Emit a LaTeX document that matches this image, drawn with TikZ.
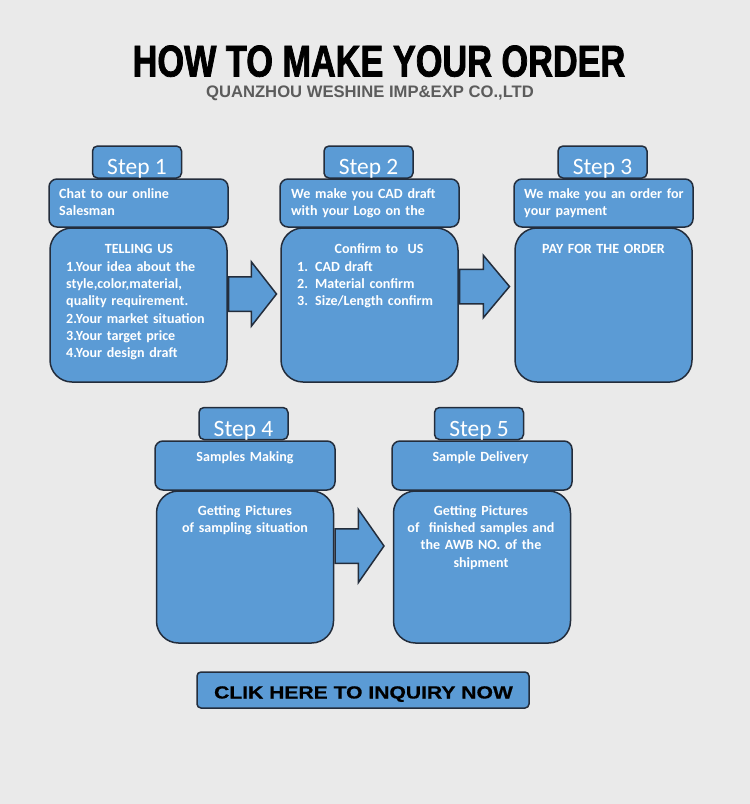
\documentclass[tikz,border=0pt]{standalone}
\usepackage{fontspec}
\setmainfont{Carlito}
\newfontfamily\titlefont{Liberation Sans}[FakeStretch=0.77,FakeBold=1.6]
\newfontfamily\arialfont{Liberation Sans}
\newfontfamily\buttonfont{Liberation Sans}[FakeStretch=1.2,FakeBold=0.6]
\usetikzlibrary{shapes.arrows,calc}
\definecolor{stepblue}{RGB}{91,155,213}
\definecolor{edgeline}{RGB}{35,45,60}
\definecolor{paper}{RGB}{234,234,234}
\definecolor{subgray}{RGB}{92,92,92}
\newdimen\px \px=0.03cm
\begin{document}
\begin{tikzpicture}[x=1\px,y=-1\px,
  tabbox/.style={draw=edgeline,fill=stepblue,line width=1.5\px,rounded corners=5\px,minimum width=89\px,minimum height=32\px,inner sep=0},
  headbox/.style={draw=edgeline,fill=stepblue,line width=1.5\px,rounded corners=8\px,minimum width=179\px,minimum height=48\px,inner sep=0},
  bodybox/.style={draw=edgeline,fill=stepblue,line width=1.5\px,rounded corners=22\px,minimum width=177\px,minimum height=154\px,inner sep=0},
  bigarrow/.style={single arrow,draw=edgeline,fill=stepblue,line width=1.5\px,inner xsep=0,inner ysep=16.5\px,single arrow head extend=15\px,single arrow tip angle=104,minimum height=48\px,anchor=tail},
  steplbl/.style={text=white,font=\fontsize{20}{22}\selectfont,anchor=base,inner sep=0},
  boxtxt/.style={text=white,font=\fontsize{12}{14.8}\selectfont\bfseries,inner sep=0,text width=170\px,align=left,anchor=base west},
  midtxt/.style={boxtxt,align=center,anchor=base}]
\fill[paper] (0,0) rectangle (750,804);
\node[font=\titlefont\fontsize{38}{40}\selectfont\bfseries,anchor=base,inner sep=0] (title) at (379,76.5) {HOW TO MAKE YOUR ORDER};
\node[font=\arialfont\fontsize{14.2}{16}\selectfont\bfseries,text=subgray,anchor=base,inner sep=0] (company) at (370,97.5) {QUANZHOU WESHINE IMP\&EXP CO.,LTD};
% first row
\begin{scope}[shift={(49,0)}]
\node[tabbox] (tab1) at (88,162) {};
\node[steplbl] (lbl1) at (88,174) {Step 1};
\node[headbox] (head1) at (89.5,203) {};
\node[bodybox] (body1) at (89.5,305) {};
\node[boxtxt] (htxt1) at (10,198) {Chat to our online\\Salesman};
\node[midtxt] (btitle1) at (90,253) {TELLING US};
\node[boxtxt] (btxt1) at (17,271) {1.Your idea about the\\style,color,material,\\quality requirement.\\2.Your market situation\\3.Your target price\\4.Your design draft};
\end{scope}
\begin{scope}[shift={(280,0)}]
\node[tabbox] (tab2) at (88.5,162) {};
\node[steplbl] (lbl2) at (88.5,174) {Step 2};
\node[headbox] (head2) at (89.5,203) {};
\node[bodybox] (body2) at (89.5,305) {};
\node[boxtxt] (htxt2) at (11,198) {We make you CAD draft\\with your Logo on the};
\node[midtxt] (btitle2) at (99,253) {Confirm to~ US};
\node[boxtxt] (btxt2) at (17,271) {1. CAD draft\\2. Material confirm\\3. Size/Length confirm};
\end{scope}
\begin{scope}[shift={(514,0)}]
\node[tabbox] (tab3) at (88.5,162) {};
\node[steplbl] (lbl3) at (88.5,174) {Step 3};
\node[headbox] (head3) at (89.5,203) {};
\node[bodybox] (body3) at (89.5,305) {};
\node[boxtxt] (htxt3) at (10,198) {We make you an order for\\your payment};
\node[midtxt] (btitle3) at (89.5,253) {PAY FOR THE ORDER};
\end{scope}
% second row
\begin{scope}[shift={(155,261)}]
\node[tabbox] (tab4) at (88.5,162.5) {};
\node[steplbl] (lbl4) at (88.5,175) {Step 4};
\node[headbox,minimum width=180\px,minimum height=49\px] (head4) at (90,204.5) {};
\node[bodybox,minimum height=152\px] (body4) at (90,306) {};
\node[midtxt] (htxt4) at (90,200) {Samples Making};
\node[midtxt] (btxt4) at (90,254) {Getting Pictures\\of sampling situation};
\end{scope}
\begin{scope}[shift={(392,261)}]
\node[tabbox] (tab5) at (87,162.5) {};
\node[steplbl] (lbl5) at (87,175) {Step 5};
\node[headbox,minimum width=180\px,minimum height=49\px] (head5) at (90,204.5) {};
\node[bodybox,minimum height=152\px] (body5) at (90,306) {};
\node[midtxt] (htxt5) at (88.5,200) {Sample Delivery};
\node[midtxt] (btxt5) at (89,254) {Getting Pictures\\of~ finished samples and\\the AWB NO. of the\\shipment};
\end{scope}
% block arrows
\node[bigarrow] (arr1) at ($(body1.east)+(0,-11)$) {};
\node[bigarrow,single arrow head extend=14\px,single arrow tip angle=100,minimum height=50\px] (arr2) at ($(body2.east)+(0,-18.5)$) {};
\node[bigarrow,single arrow head extend=19.5\px,single arrow tip angle=110,minimum height=49\px] (arr3) at ($(body4.east)+(0,-21)$) {};
% inquiry button
\node[draw=edgeline,fill=stepblue,line width=1.5\px,rounded corners=4\px,minimum width=332\px,minimum height=36\px] (inquiry) at (363,690) {};
\node[font=\buttonfont\fontsize{15}{17}\selectfont\bfseries,anchor=base,inner sep=0] (inqtxt) at (363.5,698.5) {CLIK HERE TO INQUIRY NOW};
\end{tikzpicture}
\end{document}
